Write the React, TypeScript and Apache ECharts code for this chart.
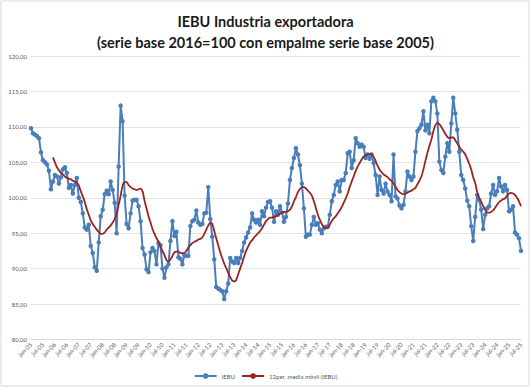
import React, { useEffect, useRef } from "react";
import * as echarts from "echarts";

// Month labels (Jan-2005 .. Jul-2025)
const monthNames = ["jan", "feb", "mar", "apr", "may", "jun", "jul", "aug", "sep", "oct", "nov", "dec"];
const startYear = 2005;
const monthCount = 247;
const categories: string[] = [];
for (let k = 0; k < monthCount; k++) {
  const y = startYear + Math.floor(k / 12);
  categories.push(monthNames[k % 12] + "-" + String(y).slice(2));
}

// IEBU monthly values
const iebu: number[] = [
  109.8, 109.1, 108.9, 108.7, 108.4, 106.4, 105.3, 105.0, 104.7, 103.8, 101.2, 102.3,
  103.2, 103.0, 102.0, 102.9, 104.0, 104.3, 103.5, 101.4, 101.8, 100.6, 101.8, 102.8,
  100.0, 99.4, 97.8, 95.8, 95.5, 96.2, 93.2, 92.2, 90.2, 89.7, 93.7, 97.4,
  98.3, 100.5, 101.0, 100.5, 102.3, 101.1, 99.3, 95.0, 104.4, 113.0, 110.8, 100.3,
  96.3, 95.7, 97.8, 99.6, 99.7, 99.7, 98.8, 96.7, 92.9, 92.0, 89.9, 89.5,
  92.3, 92.9, 92.5, 90.6, 93.6, 93.3, 90.0, 88.7, 90.2, 90.6, 93.9, 96.7,
  94.6, 95.2, 91.6, 91.4, 90.6, 91.9, 91.8, 91.8, 96.0, 96.7, 96.9, 98.2,
  96.5, 96.2, 96.3, 97.8, 97.9, 101.5, 97.0, 94.5, 91.3, 87.4, 87.2, 87.0,
  86.8, 85.7, 86.8, 87.9, 91.5, 91.0, 90.8, 91.5, 90.8, 91.5, 92.5, 93.7,
  94.4, 95.1, 95.8, 97.8, 96.9, 96.5, 96.9, 96.2, 98.1, 97.4, 98.6, 99.4,
  99.5, 98.6, 96.6, 98.1, 97.6, 98.8, 97.9, 96.6, 97.3, 99.2, 102.5, 104.2,
  105.6, 107.0, 106.1, 104.6, 102.0, 98.5, 94.5, 94.8, 94.8, 96.2, 97.3, 96.2,
  96.4, 95.5, 95.0, 95.7, 95.9, 95.9, 97.6, 99.5, 100.4, 101.8, 102.3, 100.9,
  102.5, 102.5, 103.5, 106.3, 106.5, 104.2, 105.3, 108.4, 107.7, 107.2, 107.5, 107.2,
  105.6, 106.1, 105.5, 106.1, 104.9, 103.2, 100.4, 103.0, 101.1, 100.6, 102.0, 100.9,
  100.4, 99.5, 106.1, 100.2, 99.9, 98.9, 98.5, 99.0, 100.9, 103.7, 103.0, 102.5,
  103.0, 106.5, 109.4, 109.8, 110.3, 112.2, 109.5, 110.3, 109.1, 113.6, 114.1, 113.6,
  111.9, 105.1, 103.9, 103.5, 105.8, 107.7, 106.5, 110.5, 114.1, 111.9, 109.6, 106.5,
  103.2, 102.5, 101.3, 99.6, 98.8, 96.0, 93.9, 97.3, 100.4, 99.7, 98.3, 95.6,
  97.6, 98.5, 98.8, 100.6, 101.8, 100.4, 100.9, 102.8, 101.6, 100.9, 101.8, 101.1,
  98.1, 98.3, 98.8, 95.1, 94.8, 94.3, 92.5,
];

// 12-period moving average as drawn (starts Dec-2005)
const movingAvg: (number | null)[] = [
  null, null, null, null, null, null, null, null, null, null, null, 105.7,
  105.0, 104.3, 103.9, 103.5, 103.3, 103.0, 102.8, 102.7, 102.6, 102.4, 102.3, 102.1,
  101.7, 100.9, 100.2, 99.4, 98.4, 97.6, 96.8, 96.3, 95.9, 95.5, 95.2, 94.9,
  94.9, 95.1, 95.5, 95.8, 96.1, 96.5, 97.0, 97.8, 99.0, 100.3, 101.7, 102.2,
  102.2, 101.8, 101.5, 101.3, 101.2, 101.1, 101.2, 101.3, 100.9, 99.6, 98.5, 97.4,
  96.5, 95.6, 94.9, 94.3, 93.8, 93.1, 92.5, 91.9, 91.2, 91.0, 91.3, 91.8,
  92.3, 92.4, 92.4, 92.2, 92.2, 92.2, 92.5, 93.0, 93.3, 93.6, 93.8, 93.9,
  94.1, 94.2, 94.4, 94.9, 95.5, 96.1, 96.5, 96.3, 95.3, 94.3, 93.3, 92.3,
  91.5, 90.7, 90.1, 89.4, 88.8, 88.3, 88.2, 88.4, 89.2, 90.0, 90.8, 91.7,
  92.5, 93.1, 93.7, 94.0, 94.4, 94.7, 95.0, 95.3, 95.7, 96.2, 96.7, 97.0,
  97.2, 97.2, 97.3, 97.4, 97.6, 97.8, 97.9, 98.0, 98.0, 98.1, 98.3, 98.8,
  99.5, 100.1, 100.8, 101.2, 101.5, 101.5, 101.3, 101.0, 100.7, 100.3, 99.5, 98.6,
  97.6, 96.9, 96.3, 95.9, 95.7, 95.8, 96.2, 96.7, 97.1, 97.4, 97.8, 98.2,
  98.7, 99.3, 99.9, 100.6, 101.5, 102.3, 103.0, 103.8, 104.4, 104.9, 105.4, 105.8,
  106.0, 106.1, 106.2, 106.1, 105.8, 105.2, 104.5, 104.0, 103.6, 103.3, 103.1, 102.9,
  102.6, 102.4, 102.0, 101.6, 101.1, 100.8, 100.6, 100.5, 100.6, 100.7, 100.9, 101.0,
  101.2, 101.4, 101.9, 102.4, 103.0, 104.0, 105.2, 106.3, 107.3, 108.2, 109.4, 110.2,
  110.6, 110.4, 110.0, 109.5, 109.0, 108.6, 108.4, 108.5, 108.5, 108.1, 107.7, 107.2,
  106.8, 106.5, 106.1, 105.5, 104.8, 104.0, 102.9, 102.1, 100.8, 100.0, 99.4, 98.8,
  98.3, 97.9, 97.9, 98.0, 98.2, 98.6, 99.0, 99.4, 99.6, 99.8, 99.9, 100.3,
  100.6, 100.7, 100.6, 100.4, 100.0, 99.5, 98.8,
];

const titleLines = ["IEBU Industria exportadora", "(serie base 2016=100 con empalme serie base 2005)"];
const seriesNames = ["IEBU", "12per. media móvil (IEBU)"];

export default function App() {
  const ref = useRef<HTMLDivElement>(null);

  useEffect(() => {
    if (!ref.current) return;
    const chart = echarts.init(ref.current, undefined, { renderer: "svg" });
    const font = "Lato, 'Open Sans', sans-serif";
    chart.setOption({
      animation: false,
      backgroundColor: "#ffffff",
      textStyle: { fontFamily: font },
      title: {
        text: titleLines.join("\n"),
        left: "center",
        top: 6,
        textStyle: {
          fontFamily: font,
          fontSize: 14.5,
          fontWeight: "bold",
          color: "#1a1a1a",
          lineHeight: 21,
        },
      },
      graphic: [
        {
          type: "rect",
          shape: { x: 1, y: 1, width: 528, height: 385 },
          style: { fill: "none", stroke: "#d9d9d9", lineWidth: 1 },
          silent: true,
        },
      ],
      legend: {
        bottom: 5,
        left: "center",
        itemWidth: 22,
        itemHeight: 7,
        itemGap: 6,
        textStyle: { fontFamily: font, fontSize: 6, color: "#595959" },
        data: [seriesNames[0], seriesNames[1]],
      },
      grid: { left: 31, right: 10, top: 56, bottom: 49.5 },
      xAxis: {
        type: "category",
        data: categories,
        boundaryGap: false,
        axisLine: { show: true, lineStyle: { color: "#d9d9d9" } },
        axisTick: { show: false },
        axisLabel: {
          interval: 5,
          rotate: 45,
          fontSize: 6,
          color: "#595959",
          margin: 4,
          fontFamily: font,
        },
        splitLine: { show: false },
      },
      yAxis: {
        type: "value",
        min: 80,
        max: 120,
        interval: 5,
        axisLine: { show: false },
        axisTick: { show: false },
        axisLabel: {
          fontSize: 6,
          color: "#595959",
          margin: 4,
          fontFamily: font,
          formatter: (v: number) => v.toFixed(2).replace(".", ","),
        },
        splitLine: { lineStyle: { color: "#e3e3e3", width: 1 } },
      },
      series: [
        {
          name: seriesNames[0],
          type: "line",
          data: iebu,
          symbol: "circle",
          symbolSize: 4.5,
          showAllSymbol: true,
          lineStyle: { color: "#4a7ebb", width: 2 },
          itemStyle: { color: "#4a7ebb" },
          z: 2,
        },
        {
          name: seriesNames[1],
          type: "line",
          data: movingAvg,
          symbol: "none",
          smooth: 0.3,
          lineStyle: { color: "#9b2323", width: 1.8 },
          itemStyle: { color: "#9b2323" },
          z: 3,
        },
      ],
    });
    return () => chart.dispose();
  }, []);

  return (
    <div
      ref={ref}
      style={{ position: "fixed", left: 0, top: 0, width: 531, height: 389, background: "#fff" }}
    />
  );
}
